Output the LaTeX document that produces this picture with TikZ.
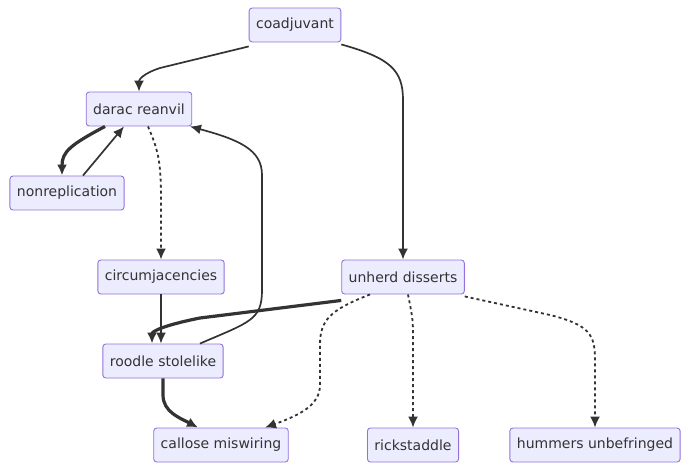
\documentclass[tikz,border=0pt]{standalone}
\usepackage{fontspec}
\setmainfont{DejaVu Sans}
\usepackage{xcolor}
\usetikzlibrary{arrows.meta}
\usetikzlibrary{math}
\definecolor{boxfill}{RGB}{236, 236, 255}
\definecolor{boxline}{RGB}{147, 112, 219}
\definecolor{edgegray}{RGB}{51, 51, 51}

\tikzset{
box/.style={draw=boxline, fill=boxfill, rounded corners=3pt, line width=0.9pt,
  minimum height=\h pt, inner xsep=7pt, text=edgegray,
  font=\fontsize{14pt}{16pt}\selectfont},
edge/.style={-{Latex[length=11pt,width=10pt]}, draw=edgegray, line width=1.7pt},
thickedge/.style={edge, line width=3.2pt},
dotedge/.style={edge, line width=1.8pt, dash pattern=on 3pt off 3pt},
}

\begin{document}
\begin{tikzpicture}[x=1pt, y=-1pt]
\tikzmath{
\h=34;
}
\useasboundingbox (0,0) rectangle (690,470);

%%%%%%%%%% nodes
\node[box] (coad) at (295,25) {coadjuvant};
\node[box] (darac) at (139,109) {darac reanvil};
\node[box] (nonrep) at (67,193) {nonreplication};
\node[box] (circ) at (161,277) {circumjacencies};
\node[box] (unherd) at (403,277) {unherd disserts};
\node[box] (roodle) at (163,361) {roodle stolelike};
\node[box] (callose) at (221,445) {callose miswiring};
\node[box] (rick) at (413,445) {rickstaddle};
\node[box] (hummers) at (595,445) {hummers unbefringed};

%%%%%%%%%% from the top
\draw[edge] ([yshift=-4]coad.south west) -- (160,68) .. controls (142,74) and (139,80) .. (darac.north);
\draw[edge] ([yshift=-2]coad.south east) .. controls (390,58) and (403,70) .. (403,100) -- (unherd.north);

%%%%%%%%%% darac reanvil loop
\draw[thickedge] ([xshift=-34]darac.south) .. controls (70,145) and (62,152) .. ([xshift=-5]nonrep.north);
\draw[edge] ([xshift=16]nonrep.north) -- ([xshift=-15]darac.south);
\draw[dotedge] ([xshift=9]darac.south) .. controls (158,150) and (161,160) .. (161,200) -- (circ.north);
\draw[edge] ([xshift=37]roodle.north) .. controls (250,322) and (262,320) .. (262,290) -- (262,175) .. controls (262,150) and (240,140) .. ([xshift=51]darac.south);

%%%%%%%%%% middle row
\draw[edge] (circ.south) -- (circ.south |- roodle.north);
\draw[thickedge] ([yshift=-6]unherd.south west) -- (200,318) .. controls (160,326) and (152,332) .. ([xshift=-11]roodle.north);

%%%%%%%%%% bottom row
\draw[thickedge] (roodle.south) -- (163,395) .. controls (163,412) and (180,418) .. ([xshift=-23]callose.north);
\draw[dotedge] ([xshift=-33]unherd.south) .. controls (330,310) and (320,320) .. (320,345) -- (320,385) .. controls (320,405) and (300,415) .. ([xshift=44]callose.north);
\draw[dotedge] ([xshift=5]unherd.south) .. controls (413,320) .. (413,340) -- (rick.north);
\draw[dotedge] ([yshift=-2]unherd.south east) -- (550,315) .. controls (590,325) and (595,335) .. (595,360) -- (hummers.north);

\end{tikzpicture}
\end{document}
